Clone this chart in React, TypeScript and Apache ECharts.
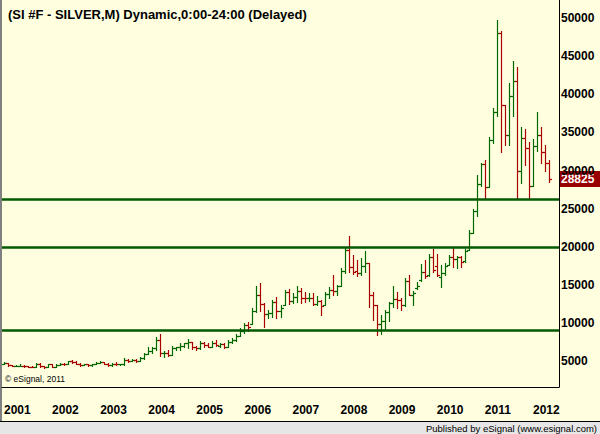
import React, { useEffect, useRef } from "react";
import * as echarts from "echarts";

// Monthly OHLC, Jan 2001 .. May 2012 (price x 1000)
const YEARS_START = 2001;
const opens = [
  4600, 4780, 4450, 4350, 4380, 4400, 4300, 4250, 4200, 4650, 4300, 4150,
  4600, 4250, 4500, 4650, 4550, 5000, 4900, 4650, 4500, 4550, 4450, 4600,
  4800, 4850, 4600, 4450, 4650, 4550, 4600, 5150, 5000, 5150, 5000, 5400,
  5950, 6300, 6700, 7800, 6000, 6100, 5850, 6650, 6800, 7000, 7300, 7500,
  6800, 6700, 7400, 7100, 6900, 7400, 7000, 7200, 6800, 7500, 7700, 8300,
  8900, 9700, 9900, 11500, 13600, 12500, 11200, 11300, 12800, 11500, 12350, 14000,
  12900, 13400, 14200, 13300, 13250, 13300, 12500, 12900, 12350, 13800, 14300, 14200,
  14800, 16800, 19600, 17300, 16800, 16600, 17500, 17800, 13700, 12300, 9800, 10200,
  11400, 12600, 13100, 13000, 12400, 15500, 13700, 14600, 15600, 16700, 16300, 18600,
  17500, 16000, 16600, 17600, 18600, 18400, 18700, 18100, 19600, 21800, 24700, 28200,
  30900, 27900, 34000, 37700, 48100, 38600, 34700, 39800, 41700, 30000, 34300, 33000,
  28000, 33200, 34700, 32400, 31000,
];
const highs = [
  4850, 4800, 4500, 4450, 4550, 4450, 4400, 4400, 4800, 4700, 4400, 4650,
  4650, 4550, 4700, 4700, 5050, 5150, 5000, 4700, 4650, 4600, 4650, 4850,
  5000, 4900, 4700, 4750, 4900, 4650, 5350, 5250, 5300, 5200, 5500, 6100,
  6900, 6800, 8100, 8500, 6350, 6400, 7000, 6900, 7300, 7400, 7900, 7550,
  7000, 7600, 7500, 7300, 7600, 7700, 7300, 7300, 7700, 8000, 8500, 9300,
  10000, 10100, 11900, 14800, 15200, 12600, 11700, 13000, 13400, 12400, 14300, 14400,
  13900, 14800, 14600, 14100, 13900, 13900, 13500, 13000, 14100, 14750, 16300, 15000,
  17200, 20000, 21400, 18900, 18300, 18500, 19400, 17800, 14100, 12400, 11000, 11700,
  12800, 14800, 14000, 13300, 15900, 16300, 14150, 15400, 17700, 18200, 19000, 19700,
  19000, 17600, 17900, 18900, 19900, 18800, 18800, 19700, 22200, 25000, 29400, 31000,
  31400, 34400, 38200, 49800, 48300, 38600, 41500, 44400, 43600, 35700, 35500, 33800,
  34100, 37700, 35700, 33300, 31400,
];
const lows = [
  4550, 4400, 4300, 4300, 4350, 4250, 4200, 4150, 4200, 4250, 4050, 4150,
  4200, 4200, 4450, 4500, 4550, 4800, 4600, 4400, 4450, 4400, 4400, 4550,
  4700, 4550, 4350, 4400, 4450, 4450, 4500, 4850, 4950, 4900, 4950, 5250,
  5950, 6100, 6450, 5600, 5500, 5600, 5850, 6450, 6400, 6900, 6700, 6550,
  6500, 6600, 6900, 6800, 6900, 7000, 6800, 6700, 6800, 7300, 7600, 8300,
  8700, 9000, 9900, 11400, 11500, 9400, 10700, 10800, 10600, 10800, 12300, 12500,
  12600, 12800, 12600, 12800, 12900, 12400, 12400, 11100, 12300, 13300, 13700, 13700,
  14800, 16500, 16700, 16400, 16100, 16300, 16700, 12100, 10400, 8400, 8600, 9100,
  10200, 12100, 11900, 11700, 12200, 13600, 12400, 14500, 15500, 15900, 16200, 16700,
  16200, 14700, 16300, 17600, 17300, 17200, 17400, 18000, 19600, 21800, 24000, 28000,
  26400, 27900, 33600, 37100, 32400, 33400, 33400, 37100, 26200, 28400, 30700, 26200,
  28000, 32500, 31000, 29900, 28500,
];
const closes = [
  4780, 4450, 4350, 4380, 4400, 4300, 4250, 4200, 4650, 4300, 4150, 4600,
  4250, 4500, 4650, 4550, 5000, 4900, 4650, 4500, 4550, 4450, 4600, 4800,
  4850, 4600, 4450, 4650, 4550, 4600, 5150, 5000, 5150, 5000, 5400, 5950,
  6300, 6700, 7800, 6000, 6100, 5850, 6650, 6800, 7000, 7300, 7500, 6800,
  6700, 7400, 7100, 6900, 7400, 7100, 7200, 6800, 7500, 7700, 8300, 8900,
  9700, 9500, 11500, 13600, 12500, 11200, 11300, 12800, 11500, 12000, 14000, 12900,
  13400, 14200, 13300, 13250, 13300, 12500, 12900, 12200, 13800, 14300, 14200, 14800,
  16800, 19600, 17300, 16700, 16600, 17500, 17800, 13700, 12300, 9800, 10200, 11400,
  12600, 13100, 13000, 12400, 15500, 13700, 13900, 14900, 16700, 16200, 18600, 16900,
  16300, 16600, 17500, 18600, 18400, 18700, 18000, 19400, 21800, 24700, 28200, 30900,
  27900, 34000, 37700, 48000, 38600, 34700, 39800, 41700, 30000, 34300, 33000, 28000,
  33200, 34700, 32400, 31000, 28825,
];
const EXTRA_SLOTS = 2;
const levels = [26200, 19900, 9000];
const yTickValues = [5000, 10000, 15000, 20000, 25000, 30000, 35000, 40000, 45000, 50000];

const TITLE = "(SI #F - SILVER,M) Dynamic,0:00-24:00 (Delayed)";
const FOOTER = "Published by eSignal (www.esignal.com)";
const COPYRIGHT = "\u00A9 eSignal, 2011";

const GREEN = "#006600";
const RED = "#A80000";
const LEVEL_GREEN = "#005A00";
const FONT = "'Liberation Sans', Arial, sans-serif";

export default function App() {
  const ref = useRef<HTMLDivElement>(null);
  useEffect(() => {
    document.body.style.margin = "0";
    if (!ref.current) return;
    const chart = echarts.init(ref.current, undefined, { renderer: "svg" });

    const n = closes.length;
    const cats: string[] = [];
    for (let i = 0; i < n + EXTRA_SLOTS; i++) {
      const y = YEARS_START + Math.floor(i / 12);
      const m = (i % 12) + 1;
      cats.push(i < n ? `${y}-${m < 10 ? "0" + m : m}` : `x${i}`);
    }
    const data = closes.map((c, i) => [i, opens[i], highs[i], lows[i], c]);

    const renderItem = (params: any, api: any) => {
      const i = api.value(0);
      const o = api.value(1);
      const h = api.value(2);
      const l = api.value(3);
      const c = api.value(4);
      const pH = api.coord([i, h]);
      const pL = api.coord([i, l]);
      const pO = api.coord([i, o]);
      const pC = api.coord([i, c]);
      const x = Math.round(pH[0]) + 0.5;
      const yo = Math.round(pO[1]) + 0.5;
      const yc = Math.round(pC[1]) + 0.5;
      const color = c >= o ? GREEN : RED;
      const style = { stroke: color, lineWidth: 1.2 };
      return {
        type: "group",
        children: [
          { type: "line", shape: { x1: x, y1: Math.round(pH[1]), x2: x, y2: Math.round(pL[1]) + 1 }, style },
          { type: "line", shape: { x1: x - 2.5, y1: yo, x2: x, y2: yo }, style },
          { type: "line", shape: { x1: x, y1: yc, x2: x + 2.5, y2: yc }, style },
        ],
      };
    };

    const isYearStart = (idx: number) => idx % 12 === 0 && idx < n;

    chart.setOption({
      animation: false,
      backgroundColor: "#FFFFE0",
      title: {
        text: TITLE,
        left: 3,
        top: 3,
        textStyle: { fontFamily: FONT, fontSize: 13, fontWeight: "bold", color: "#000" },
      },
      grid: { left: 2, right: 41, top: 0, bottom: 47 },
      xAxis: {
        type: "category",
        data: cats,
        boundaryGap: true,
        axisLine: { lineStyle: { color: "#000", width: 1 } },
        axisTick: { interval: isYearStart, length: 3, lineStyle: { color: "#000" } },
        axisLabel: {
          interval: isYearStart,
          formatter: (v: string) => v.slice(0, 4),
          align: "left",
          margin: 17,
          fontFamily: FONT,
          fontSize: 12,
          fontWeight: "bold",
          color: "#000",
        },
        splitLine: { show: false },
      },
      yAxis: {
        type: "value",
        position: "right",
        min: 1590,
        max: 52380,
        axisLine: { show: true, lineStyle: { color: "#000", width: 1 } },
        axisTick: { show: false },
        splitLine: { show: false },
        axisLabel: {
          customValues: yTickValues,
          formatter: (v: number) => String(v),
          margin: 2,
          fontFamily: FONT,
          fontSize: 12,
          fontWeight: "bold",
          color: "#000",
        },
      },
      series: [
        {
          type: "custom",
          renderItem,
          data,
          encode: { x: 0, y: [1, 2, 3, 4] },
          silent: true,
          markLine: {
            symbol: "none",
            silent: true,
            label: { show: false },
            lineStyle: { color: LEVEL_GREEN, width: 2.5, type: "solid" },
            emphasis: { disabled: true },
            data: levels.map((v) => ({ yAxis: v })),
          },
        },
      ],
    });

    const last = closes[n - 1];
    const py = chart.convertToPixel({ yAxisIndex: 0 }, last) as number;
    chart.setOption({
      graphic: [
        { type: "rect", shape: { x: 0, y: 0, width: 2, height: 421 }, style: { fill: "#808080" } },
        { type: "rect", shape: { x: 0, y: 421, width: 600, height: 13 }, style: { fill: "#E6E6E6" } },
        { type: "line", shape: { x1: 0, y1: 421.5, x2: 600, y2: 421.5 }, style: { stroke: "#000", lineWidth: 1 } },
        {
          type: "text",
          x: 597,
          y: 428,
          style: { text: FOOTER, fontFamily: FONT, fontSize: 9.5, fill: "#000", align: "right", verticalAlign: "middle" },
        },
        {
          type: "text",
          x: 5,
          y: 379,
          style: { text: COPYRIGHT, fontFamily: FONT, fontSize: 8.5, fill: "#000", align: "left", verticalAlign: "middle" },
        },
        { type: "rect", shape: { x: 559, y: Math.round(py) - 8, width: 41, height: 16 }, style: { fill: "#990000" } },
        {
          type: "text",
          x: 561,
          y: Math.round(py),
          style: {
            text: String(last),
            fontFamily: FONT,
            fontSize: 12,
            fontWeight: "bold",
            fill: "#fff",
            align: "left",
            verticalAlign: "middle",
          },
        },
      ],
    });

    return () => chart.dispose();
  }, []);
  return <div ref={ref} style={{ width: 600, height: 434 }} />;
}
